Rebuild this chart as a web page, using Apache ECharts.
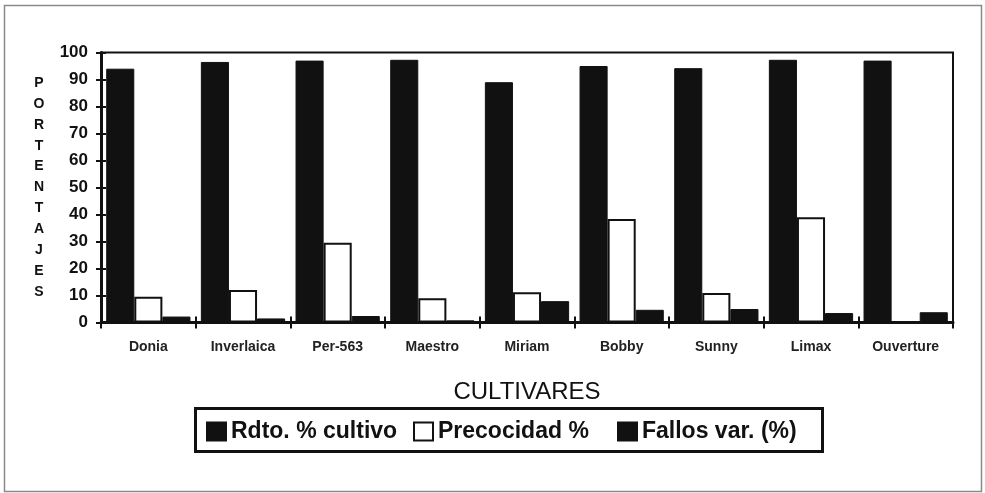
<!DOCTYPE html>
<html>
<head>
<meta charset="utf-8">
<script src="https://cdn.jsdelivr.net/npm/echarts@6/dist/echarts.min.js"></script>
<style>
html,body{margin:0;padding:0;background:#fff;}
#c{width:985px;height:493px;}
</style>
</head>
<body>
<div id="c"></div>
<script>
var categories = ['Donia','Inverlaica','Per-563','Maestro','Miriam','Bobby','Sunny','Limax','Ouverture'];
var rdto = [94, 96.5, 97, 97.3, 89, 95, 94.2, 97.3, 97];
var precocidad = [9.5, 12, 29.5, 9, 11.2, 38.3, 10.9, 39, 0.3];
var fallos = [2.2, 1.5, 2.4, 0.8, 7.9, 4.7, 5, 3.5, 3.8];
var seriesNames = ['Rdto. % cultivo', 'Precocidad %', 'Fallos var. (%)'];
var yAxisTitle = 'PORTENTAJES';
var xAxisTitle = 'CULTIVARES';

var chart = echarts.init(document.getElementById('c'), null, {renderer:'canvas'});
var font = 'Liberation Sans, Arial, sans-serif';
var legendText = {fontFamily: font, fontSize: 23, fontWeight: 'bold', color: '#111'};
function legendFor(name, left) {
  return {
    data: [name], left: left, top: 420, padding: 0,
    itemWidth: 19, itemHeight: 18, icon: 'rect',
    textStyle: legendText
  };
}
var option = {
  animation: false,
  backgroundColor: '#fff',
  grid: {left: 101, right: 32, top: 52.5, bottom: 170.5, show: true, borderColor: '#111', borderWidth: 2, containLabel: false},
  legend: [legendFor(seriesNames[0], 206), legendFor(seriesNames[1], 413), legendFor(seriesNames[2], 617)],
  graphic: [
    {type: 'rect', shape: {x: 4.5, y: 5.5, width: 977, height: 486}, style: {fill: 'none', stroke: '#8a8a8a', lineWidth: 1.5}, z: -1},
    {type: 'rect', shape: {x: 195.5, y: 408.5, width: 627, height: 43}, style: {fill: 'none', stroke: '#111', lineWidth: 3}}
  ],
  xAxis: [{
    type: 'category', data: categories,
    name: xAxisTitle, nameLocation: 'middle', nameGap: 58,
    nameTextStyle: {fontFamily: font, fontSize: 24, color: '#111'},
    axisLine: {lineStyle: {color: '#111', width: 3}},
    axisTick: {show: true, length: 6, lineStyle: {color: '#111', width: 2}},
    axisLabel: {fontFamily: font, fontSize: 14, fontWeight: 'bold', color: '#222', margin: 18}
  }, {
    type: 'category', data: categories, position: 'bottom',
    axisLine: {show: false},
    axisTick: {show: true, inside: true, length: 6, lineStyle: {color: '#111', width: 2}},
    axisLabel: {show: false}
  }],
  yAxis: [{
    type: 'value', min: 0, max: 100, interval: 10,
    name: yAxisTitle.split('').join('\n'), nameLocation: 'middle', nameRotate: 0, nameGap: 62,
    nameTextStyle: {fontFamily: font, fontSize: 14, fontWeight: 'bold', color: '#111', lineHeight: 20.9, align: 'center'},
    splitLine: {show: false},
    axisLine: {show: true, lineStyle: {color: '#111', width: 3}},
    axisTick: {show: true, length: 5, lineStyle: {color: '#111', width: 2}},
    axisLabel: {fontFamily: font, fontSize: 17, fontWeight: 'bold', color: '#111', margin: 13}
  }, {
    type: 'value', min: 0, max: 100, interval: 10, position: 'left',
    splitLine: {show: false},
    axisLine: {show: false},
    axisTick: {show: true, inside: true, length: 5, lineStyle: {color: '#111', width: 2}},
    axisLabel: {show: false}
  }],
  series: [
    {name: seriesNames[0], type: 'bar', data: rdto, barGap: '0%', barCategoryGap: '11%',
     itemStyle: {color: '#111', borderColor: '#111', borderWidth: 1}},
    {name: seriesNames[1], type: 'bar', data: precocidad,
     itemStyle: {color: '#fff', borderColor: '#111', borderWidth: 2}},
    {name: seriesNames[2], type: 'bar', data: fallos,
     itemStyle: {color: '#111', borderColor: '#111', borderWidth: 1}}
  ]
};
chart.setOption(option);
</script>
</body>
</html>
